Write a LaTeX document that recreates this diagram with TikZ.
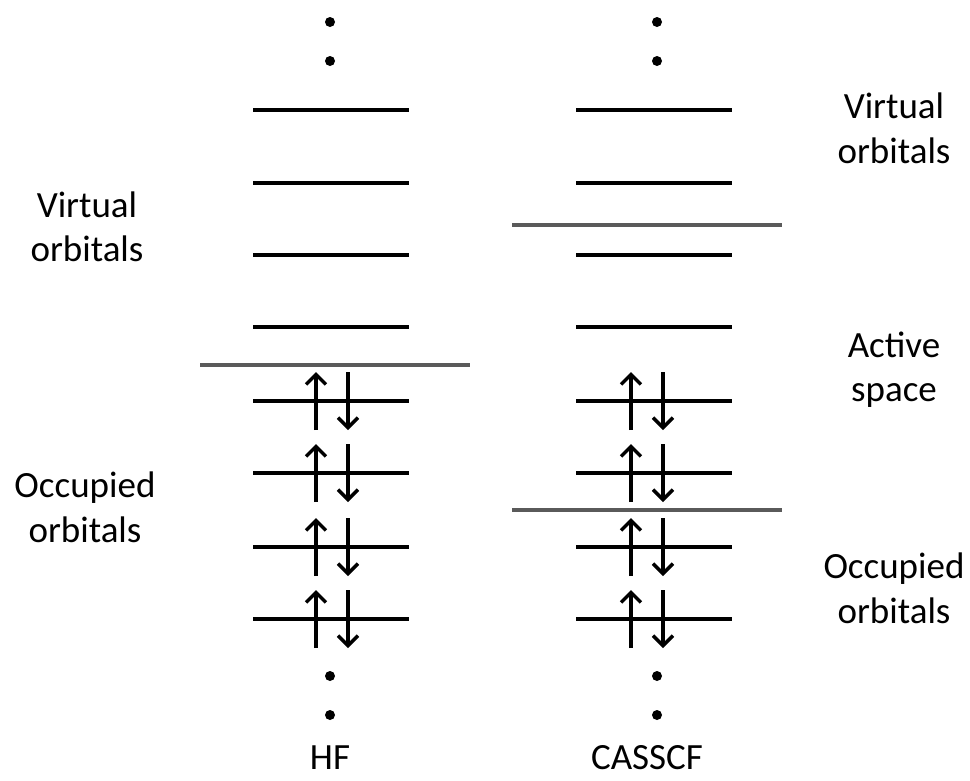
\documentclass[tikz,border=0pt]{standalone}
\usepackage{fontspec}
\setmainfont{Carlito}
\usetikzlibrary{arrows.meta}
\definecolor{sepgray}{HTML}{5A5A5A}
\begin{document}
\begin{tikzpicture}[x=1pt,y=-1pt,
  level/.style={line width=3.6pt},
  sep/.style={line width=3.4pt,draw=sepgray},
  spin/.style={line width=3.4pt,-{Straight Barb[length=10pt,width=20pt,line width=3.4pt]}},
  dot/.style={fill=black},
  lbl/.style={font=\fontsize{37}{44}\selectfont,anchor=base,inner sep=0pt}]
\useasboundingbox (0,0) rectangle (970,780);
% orbital levels
\foreach \y in {110,183,255,327,401,473,547,619}{
  \draw[level] (253,\y) -- (409,\y);
  \draw[level] (576,\y) -- (732,\y);
}
% spin pairs
\foreach \y in {401,473,547,619}{
  \draw[spin] (316,\y+29) -- (316,\y-29);
  \draw[spin] (348,\y-29) -- (348,\y+29);
  \draw[spin] (631,\y+29) -- (631,\y-29);
  \draw[spin] (663,\y-29) -- (663,\y+29);
}
% separators
\draw[sep] (200,365) -- (470,365);
\draw[sep] (512,225) -- (782,225);
\draw[sep] (512,510) -- (782,510);
% dots
\foreach \y in {22,61,676,715}{
  \fill[dot] (330,\y) circle (5pt);
  \fill[dot] (657,\y) circle (5pt);
}
% labels
\node[lbl] (lv1) at (87,217) {Virtual};
\node[lbl] (lv2) at (87,261) {orbitals};
\node[lbl] (lo1) at (85,497) {Occupied};
\node[lbl] (lo2) at (85,542) {orbitals};
\node[lbl] (rv1) at (894,118) {Virtual};
\node[lbl] (rv2) at (894,163) {orbitals};
\node[lbl] (ra1) at (894,357) {Active};
\node[lbl] (ra2) at (894,401) {space};
\node[lbl] (ro1) at (894,578) {Occupied};
\node[lbl] (ro2) at (894,623) {orbitals};
\node[lbl] (hf) at (330,769) {HF};
\node[lbl] (cas) at (647,769) {CASSCF};
\end{tikzpicture}
\end{document}
